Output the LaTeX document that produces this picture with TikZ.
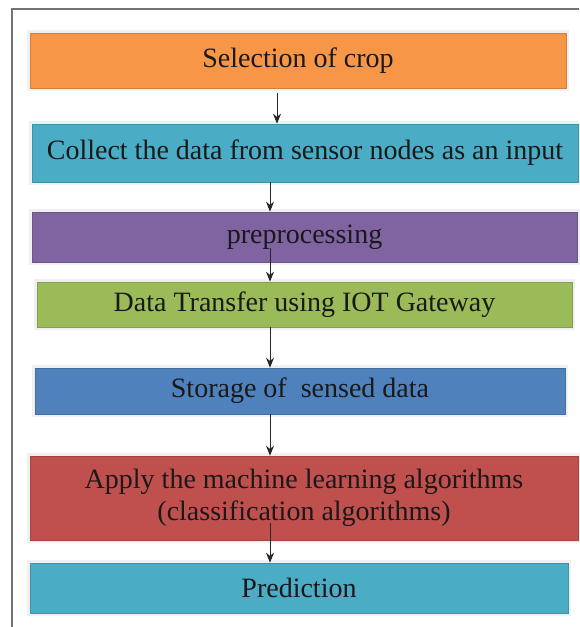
\documentclass[tikz,border=0pt]{standalone}
\usepackage{fontspec}
\setmainfont{Liberation Serif}
\usetikzlibrary{arrows.meta,positioning}
\definecolor{cropor}{HTML}{F79646}
\definecolor{sensecy}{HTML}{4BACC6}
\definecolor{prepu}{HTML}{8064A2}
\definecolor{gatewaygr}{HTML}{9BBB59}
\definecolor{storebl}{HTML}{4F81BD}
\definecolor{learnrd}{HTML}{C0504D}
\begin{document}
\begin{tikzpicture}[
            x=1pt, y=-1pt,
            stage/.style={fill=#1, draw=#1!85!black, line width=0.6pt,
                preaction={draw=black!6, line width=6pt},
                inner sep=0pt, align=center, text=black!90,
                font=\fontsize{28}{32}\selectfont},
            flow/.style={-{Stealth[length=10pt,width=8pt]}, line width=1pt, black!85},
        ]
        \useasboundingbox (0,0) rectangle (579,627);
        % outer frame (left and top only)
        \draw[black!55, line width=2.6pt] (12,627) -- (12,9) -- (579,9);
        % stages
        \node[stage=cropor, minimum width=536pt, minimum height=55pt] (sel) at (298,60.5) {Selection of crop};
        \node[stage=sensecy, minimum width=546pt, minimum height=58pt] (collect) at (305,153) {Collect the data from sensor nodes as an input};
        \node[stage=prepu, minimum width=545pt, minimum height=50pt] (pre) at (304.5,237) {preprocessing};
        \node[stage=gatewaygr, minimum width=535pt, minimum height=45pt] (transfer) at (304.5,304.5) {Data Transfer using IOT Gateway};
        \node[stage=storebl, minimum width=530pt, minimum height=46pt] (store) at (300,391) {Storage of \ sensed data};
        \node[stage=learnrd, minimum width=548pt, minimum height=84pt] (apply) at (304,498) {Apply the machine learning algorithms\\(classification algorithms)};
        \node[stage=sensecy, minimum width=538pt, minimum height=50pt] (pred) at (299,588) {Prediction};
        % arrow columns
        \coordinate (col1) at (277,0);
        \coordinate (col2) at (270,0);
        \coordinate (prestart) at (270,248);
        \coordinate (applystart) at (270,523);
        \draw[flow, shorten <=5pt] (sel.south -| col1) -- (collect.north -| col1);
        \draw[flow] (collect.south -| col2) -- (pre.north -| col2);
        \draw[flow] (prestart) -- (transfer.north -| col2);
        \draw[flow] (transfer.south -| col2) -- (store.north -| col2);
        \draw[flow] (store.south -| col2) -- (apply.north -| col2);
        \draw[flow] (applystart) -- (pred.north -| col2);
\end{tikzpicture}
\end{document}
